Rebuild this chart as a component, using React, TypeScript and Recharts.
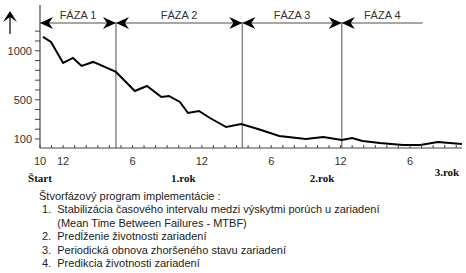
import React from "react";
import {
  LineChart,
  Line,
  XAxis,
  YAxis,
  ReferenceLine,
  ReferenceDot,
} from "recharts";

// months since start (0 = October), failure-interval value
const months = [0.26, 0.95, 2.0, 2.85, 3.6, 4.6, 6.57, 8.2, 9.25, 10.5, 11.15, 12.1, 12.8, 13.75, 14.7, 16.1, 17.4, 18.85, 20.7, 23, 24.5, 26.1, 27, 27.9, 29.4, 31.4, 32.9, 34.4, 36.5];
const values = [1141, 1090, 876, 927, 845, 886, 784, 590, 641, 529, 539, 478, 365, 386, 314, 222, 253, 202, 131, 100, 120, 90, 110, 80, 59, 39, 39, 69, 49];

const monthTicks = Array.from({ length: 37 }, (_, i) => i);
const monthLabels: Record<number, string> = { 0: "10", 2: "12", 8: "6", 14: "12", 20: "6", 26: "12", 32: "6" };

const yearTicks = [0, 12.4, 24.4, 35.2];
const yearLabels = ["Štart", "1.rok", "2.rok", "3.rok"];

const yTicks = [100, 200, 300, 400, 500, 600, 700, 800, 900, 1000, 1100, 1200];
const yLabels = [100, 500, 1000];

const phaseBounds = [0, 6.57, 17.5, 26.1, 33.1];
const phaseNames = ["FÁZA 1", "FÁZA 2", "FÁZA 3", "FÁZA 4"];
const phaseLevel = 1284;

const notes = [
  "Štvorfázový program implementácie :",
  "1.  Stabilizácia časového intervalu medzi výskytmi porúch u zariadení",
  "     (Mean Time Between Failures - MTBF)",
  "2.  Predĺženie životnosti zariadení",
  "3.  Periodická obnova zhoršeného stavu zariadení",
  "4.  Predikcia životnosti zariadení",
];

const data = months.map((m, i) => ({ m, v: values[i] }));

const Y_MIN = 8;
const Y_MAX = 1467;

const MonthTick = (props: any) => {
  const { x, y, payload } = props;
  const label = monthLabels[payload.value];
  return (
    <g>
      <line x1={x} x2={x} y1={y - 3} y2={y} stroke="#444" strokeWidth={1} />
      {label && (
        <text x={x} y={y + 17} textAnchor="middle" fontSize={11} fill="#333" fontFamily="Liberation Sans, Arial, sans-serif">
          {label}
        </text>
      )}
    </g>
  );
};

const YearTick = (props: any) => {
  const { x, y, payload, index } = props;
  return (
    <text x={x} y={y + 16 - (index === 3 ? 6 : 0)} textAnchor="middle" fontSize={11} fontWeight="bold" fill="#111" fontFamily="Liberation Serif, Times New Roman, serif">
      {yearLabels[yearTicks.indexOf(payload.value)]}
    </text>
  );
};

const arrowHead = (dir: number) => (props: any) => {
  const { cx, cy } = props;
  const pts = [
    [0, 0],
    [13 * dir, -6],
    [9 * dir, 0],
    [13 * dir, 6],
  ]
    .map(([px, py]) => `${cx + px},${cy + py}`)
    .join(" ");
  return <polygon points={pts} fill="#000" />;
};

const phaseText = (name: string) => (props: any) => (
  <text x={props.cx} y={props.cy - 4} textAnchor="middle" fontSize={11} fill="#333" fontFamily="Liberation Sans, Arial, sans-serif">
    {name}
  </text>
);

export default function App() {
  return (
    <div style={{ position: "absolute", left: 0, top: 0, width: 466, height: 273, background: "#fff", overflow: "hidden" }}>
      <svg width={30} height={40} style={{ position: "absolute", left: 0, top: 0 }}>
        <line x1={10} x2={10} y1={16} y2={34} stroke="#000" strokeWidth={1.2} />
        <polygon points="10,11 3,22 10,17 17,22" fill="#000" />
      </svg>
      <LineChart width={466} height={185} data={data} margin={{ top: 5, right: 4, bottom: 3, left: 0 }}>
        <XAxis
          xAxisId="m"
          dataKey="m"
          type="number"
          domain={[0, 36.5]}
          ticks={monthTicks}
          interval={0}
          tickSize={0}
          tickMargin={0}
          tick={<MonthTick />}
          tickLine={false}
          axisLine={{ stroke: "#444", strokeWidth: 1.2 }}
          height={18}
        />
        <XAxis
          xAxisId="yr"
          dataKey="m"
          type="number"
          domain={[0, 36.5]}
          ticks={yearTicks}
          interval={0}
          tickSize={0}
          tickMargin={0}
          tick={<YearTick />}
          tickLine={false}
          axisLine={false}
          height={16}
        />
        <YAxis
          type="number"
          domain={[Y_MIN, Y_MAX]}
          ticks={yTicks}
          interval={0}
          width={40}
          tickSize={5}
          tickMargin={3}
          tickFormatter={(v: number) => (yLabels.includes(v) ? String(v) : "")}
          tick={{ fontSize: 11, fill: "#333", fontFamily: "Liberation Sans, Arial, sans-serif" }}
          tickLine={{ stroke: "#444" }}
          axisLine={{ stroke: "#444", strokeWidth: 1.2 }}
        />
        <ReferenceLine
          xAxisId="m"
          segment={[{ x: phaseBounds[0], y: phaseLevel }, { x: phaseBounds[4], y: phaseLevel }]}
          stroke="#888"
          strokeWidth={1.5}
        />
        {phaseBounds.slice(1, 4).map((b) => (
          <ReferenceLine
            key={`v${b}`}
            xAxisId="m"
            segment={[{ x: b, y: phaseLevel }, { x: b, y: Y_MIN }]}
            stroke="#888"
            strokeWidth={1.5}
          />
        ))}
        {phaseBounds.slice(0, 4).map((b) => (
          <ReferenceDot key={`l${b}`} xAxisId="m" x={b} y={phaseLevel} r={0} shape={arrowHead(1)} />
        ))}
        {phaseBounds.slice(1, 4).map((b) => (
          <ReferenceDot key={`r${b}`} xAxisId="m" x={b} y={phaseLevel} r={0} shape={arrowHead(-1)} />
        ))}
        {phaseNames.map((n, i) => (
          <ReferenceDot
            key={n}
            xAxisId="m"
            x={(phaseBounds[i] + phaseBounds[i + 1]) / 2}
            y={phaseLevel}
            r={0}
            shape={phaseText(n)}
          />
        ))}
        <Line
          xAxisId="m"
          dataKey="v"
          type="linear"
          stroke="#000"
          strokeWidth={2}
          dot={false}
          isAnimationActive={false}
        />
      </LineChart>
      <div
        style={{
          position: "absolute",
          left: 39,
          top: 190,
          fontFamily: "Liberation Sans, Arial, sans-serif",
          fontSize: 11,
          lineHeight: "13.4px",
          color: "#222",
          whiteSpace: "pre",
        }}
      >
        {notes.map((t, i) => (
          <div key={i} style={{ paddingLeft: i === 0 ? 0 : 3 }}>
            {t}
          </div>
        ))}
      </div>
    </div>
  );
}
